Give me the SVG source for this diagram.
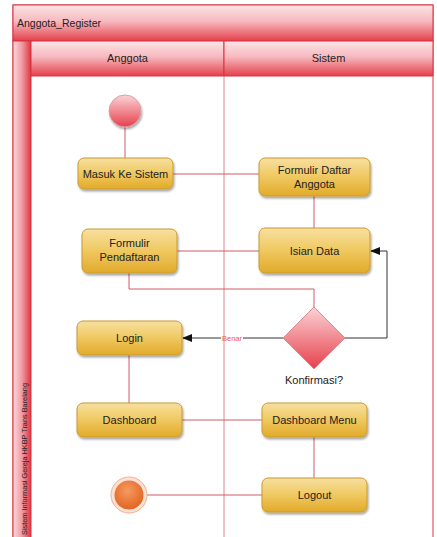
<svg xmlns="http://www.w3.org/2000/svg" width="437" height="537" viewBox="0 0 437 537">
  <defs>
    <linearGradient id="hdr" x1="0" y1="0" x2="0" y2="1">
      <stop offset="0" stop-color="#fde4e6"/>
      <stop offset="0.45" stop-color="#f6b9bf"/>
      <stop offset="1" stop-color="#e4404c"/>
    </linearGradient>
    <linearGradient id="band" x1="0" y1="0" x2="1" y2="0">
      <stop offset="0" stop-color="#fbd9dc"/>
      <stop offset="0.5" stop-color="#f09aa2"/>
      <stop offset="1" stop-color="#e03442"/>
    </linearGradient>
    <linearGradient id="act" x1="0" y1="0" x2="0" y2="1">
      <stop offset="0" stop-color="#f7e0a0"/>
      <stop offset="0.5" stop-color="#efc860"/>
      <stop offset="1" stop-color="#e2aa2a"/>
    </linearGradient>
    <linearGradient id="red" x1="0" y1="0" x2="0" y2="1">
      <stop offset="0" stop-color="#fbd3d6"/>
      <stop offset="1" stop-color="#e6404c"/>
    </linearGradient>
    <radialGradient id="endg" cx="0.45" cy="0.35" r="0.7">
      <stop offset="0" stop-color="#f59a60"/>
      <stop offset="1" stop-color="#e0601e"/>
    </radialGradient>
    <filter id="sh" x="-20%" y="-20%" width="140%" height="150%">
      <feDropShadow dx="1" dy="2" stdDeviation="1.2" flood-color="#000" flood-opacity="0.35"/>
    </filter>
    <marker id="arr" markerWidth="10" markerHeight="8" refX="9" refY="4" orient="auto" markerUnits="userSpaceOnUse">
      <path d="M0,0 L10,4 L0,8 Z" fill="#111"/>
    </marker>
  </defs>
  <style>
    .lbl { font-family: "Liberation Sans", Arial, sans-serif; font-size: 11px; fill: #222; text-anchor: middle; }
    .box { fill: url(#act); stroke: #c99a30; stroke-width: 1; filter: url(#sh); }
    .ln { fill: none; stroke: #d25a66; stroke-width: 1; }
    .flow { fill: none; stroke: #333; stroke-width: 1; }
  </style>

  <!-- swimlane frame -->
  <g id="frame">
    <rect x="13" y="5" width="420" height="540" fill="#fff" stroke="#d8323e" stroke-width="1"/>
    <rect x="13" y="5" width="420" height="36" fill="url(#hdr)" stroke="#d8323e" stroke-width="1"/>
    <text x="17" y="27" font-family="Liberation Sans, Arial, sans-serif" font-size="10.5" fill="#222">Anggota_Register</text>
    <rect x="13" y="41" width="18" height="504" fill="url(#band)" stroke="#d8323e" stroke-width="1"/>
    <text transform="translate(27,535) rotate(-90)" font-family="Liberation Sans, Arial, sans-serif" font-size="7.3" textLength="152" lengthAdjust="spacingAndGlyphs" fill="#222">Sistem Informasi Gereja HKBP Trans Barelang</text>
    <rect x="31" y="41" width="193" height="35" fill="url(#hdr)" stroke="#d8323e" stroke-width="1"/>
    <rect x="224" y="41" width="209" height="35" fill="url(#hdr)" stroke="#d8323e" stroke-width="1"/>
    <text class="lbl" x="127.5" y="62">Anggota</text>
    <text class="lbl" x="328.5" y="62">Sistem</text>
    <line x1="224" y1="76" x2="224" y2="545" stroke="#d88890" stroke-width="1"/>
    <line x1="433" y1="76" x2="433" y2="545" stroke="#e89aa2" stroke-width="1"/>
  </g>

  <!-- connectors -->
  <g id="connectors">
    <path class="ln" d="M125,127 V158"/>
    <path class="ln" d="M173,174 H259"/>
    <path class="ln" d="M314,196 V228"/>
    <path class="ln" d="M259,251 H177"/>
    <path class="ln" d="M129,273 V289 H314 V307"/>
    <path class="flow" d="M345,338 H387 V251 H371" marker-end="url(#arr)"/>
    <path class="flow" d="M283,338 H243"/>
    <path class="flow" d="M221,338 H183" marker-end="url(#arr)"/>
    <text x="232" y="341" font-family="Liberation Sans, Arial, sans-serif" font-size="7.5" fill="#e05a66" text-anchor="middle">Benar</text>
    <path class="ln" d="M129,355 V403"/>
    <path class="ln" d="M182,420 H262"/>
    <path class="ln" d="M314,437 V478"/>
    <path class="ln" d="M262,495 H147"/>
  </g>

  <!-- nodes -->
  <g id="start">
    <circle cx="125" cy="111" r="16" fill="url(#red)" stroke="#d8a0a6" stroke-width="1" filter="url(#sh)"/>
  </g>
  <g id="masuk">
    <rect class="box" x="78" y="158" width="95" height="31" rx="6"/>
    <text class="lbl" x="125.5" y="177.5">Masuk Ke Sistem</text>
  </g>
  <g id="formulir-daftar">
    <rect class="box" x="259" y="158" width="111" height="38" rx="6"/>
    <text class="lbl" x="314.5" y="173.5">Formulir Daftar</text>
    <text class="lbl" x="314.5" y="187.5">Anggota</text>
  </g>
  <g id="formulir-pendaftaran">
    <rect class="box" x="82" y="229" width="95" height="44" rx="6"/>
    <text class="lbl" x="129.5" y="247">Formulir</text>
    <text class="lbl" x="129.5" y="261">Pendaftaran</text>
  </g>
  <g id="isian-data">
    <rect class="box" x="259" y="228" width="111" height="45" rx="6"/>
    <text class="lbl" x="314.5" y="255">Isian Data</text>
  </g>
  <g id="konfirmasi">
    <path d="M314,307 L345,338 L314,369 L283,338 Z" fill="url(#red)" stroke="#e08a92" stroke-width="1"/>
    <text class="lbl" x="314" y="384">Konfirmasi?</text>
  </g>
  <g id="login">
    <rect class="box" x="77" y="321" width="105" height="34" rx="6"/>
    <text class="lbl" x="129.5" y="342">Login</text>
  </g>
  <g id="dashboard">
    <rect class="box" x="77" y="403" width="105" height="34" rx="6"/>
    <text class="lbl" x="129.5" y="424">Dashboard</text>
  </g>
  <g id="dashboard-menu">
    <rect class="box" x="262" y="403" width="105" height="34" rx="6"/>
    <text class="lbl" x="314.5" y="424">Dashboard Menu</text>
  </g>
  <g id="logout">
    <rect class="box" x="262" y="478" width="105" height="34" rx="6"/>
    <text class="lbl" x="314.5" y="499">Logout</text>
  </g>
  <g id="end">
    <circle cx="129" cy="495" r="18" fill="#fbe0d4" stroke="#efb090" stroke-width="1"/>
    <circle cx="129" cy="495" r="14.5" fill="url(#endg)"/>
  </g>
</svg>
